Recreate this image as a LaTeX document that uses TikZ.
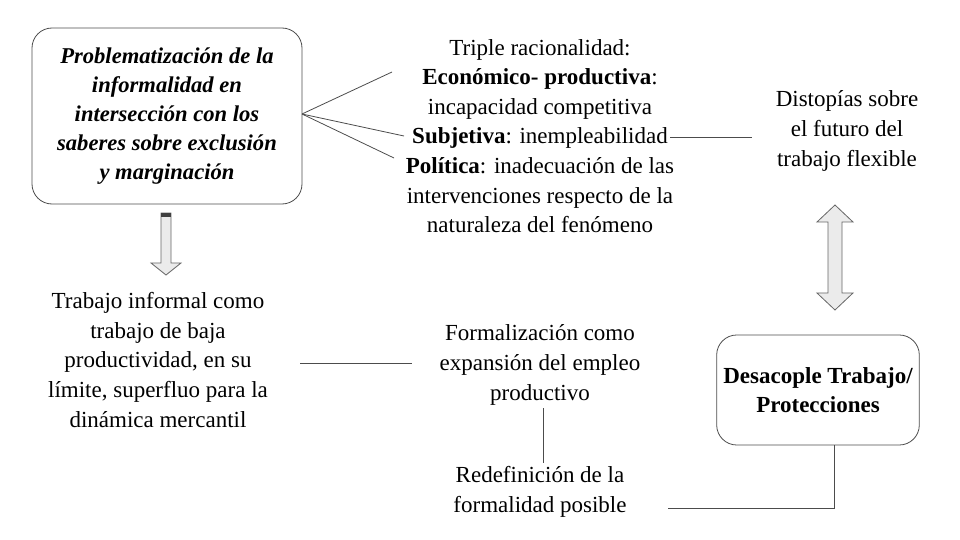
\documentclass[tikz,border=0pt]{standalone}
\usepackage{fontspec}
\setmainfont{Liberation Serif}
\usetikzlibrary{calc}

\begin{document}
\begin{tikzpicture}[x=0.5pt,y=-0.5pt,
    caja/.style={draw=black!70, rounded corners=10pt, align=center},
    txt/.style={align=center, font=\fontsize{11.5}{14.8}\selectfont},
    linea/.style={draw=black!70, line width=0.4pt},
    flecha/.style={draw=black!60, fill=black!8, line width=0.4pt}]
    % Marco
    \useasboundingbox (0,0) rectangle (960,540);
    % Cajas
    \node[caja, minimum width=135pt, minimum height=88pt, txt, font=\fontsize{11.3}{14.6}\selectfont\bfseries\itshape]
        (prob) at (167,116) {Problematización de la\\informalidad en\\intersección con los\\saberes sobre exclusión\\y marginación};
    \node[caja, minimum width=100pt, minimum height=55pt, txt, font=\fontsize{11.5}{14.8}\selectfont\bfseries]
        (desac) at (818,390) {Desacople Trabajo/\\Protecciones};
    % Textos
    \node[txt] (triple) at (540,136) {Triple racionalidad:\\\textbf{Económico- productiva}:\\incapacidad competitiva\\\textbf{Subjetiva}: inempleabilidad\\\textbf{Política}: inadecuación de las\\intervenciones respecto de la\\naturaleza del fenómeno};
    \node[txt] (dist) at (847,131) {Distopías sobre\\el futuro del\\trabajo flexible};
    \node[txt] (inf) at (158,360) {Trabajo informal como\\trabajo de baja\\productividad, en su\\límite, superfluo para la\\dinámica mercantil};
    \node[txt] (form) at (540,365) {Formalización como\\expansión del empleo\\productivo};
    \node[txt] (redef) at (540,492) {Redefinición de la\\formalidad posible};
    % Puntos de los conectores
    \coordinate (p0) at (302,114);
    \coordinate (p1) at (392,72);
    \coordinate (p2) at (404,136);
    \coordinate (p3) at (394,158);
    \coordinate (q1) at (670,137);
    \coordinate (q2) at (752,137);
    \coordinate (r1) at (300,363);
    \coordinate (r2) at (412,363);
    \coordinate (s1) at (543,408);
    \coordinate (s2) at (543,463);
    \coordinate (t1) at (668,508);
    \coordinate (t2) at (834,508);
    % Conectores
    \draw[linea] (p0) -- (p1);
    \draw[linea] (p0) -- (p2);
    \draw[linea] (p0) -- (p3);
    \draw[linea] (q1) -- (q2);
    \draw[linea] (r1) -- (r2);
    \draw[linea] (s1) -- (s2);
    \draw[linea] (t1) -- (t2) -- (t2 |- desac.south);
    % Flecha hacia abajo
    \draw[flecha] (161,213) -- (171,213) -- (171,263) -- (181,263) -- (166,275)
        -- (151,263) -- (161,263) -- cycle;
    \fill[black!75] (161,213) rectangle (171,217);
    % Flecha doble
    \draw[flecha] (835,205) -- (853,222) -- (842,222) -- (842,293) -- (853,293)
        -- (835,310) -- (817,293) -- (828,293) -- (828,222) -- (817,222) -- cycle;
\end{tikzpicture}
\end{document}
